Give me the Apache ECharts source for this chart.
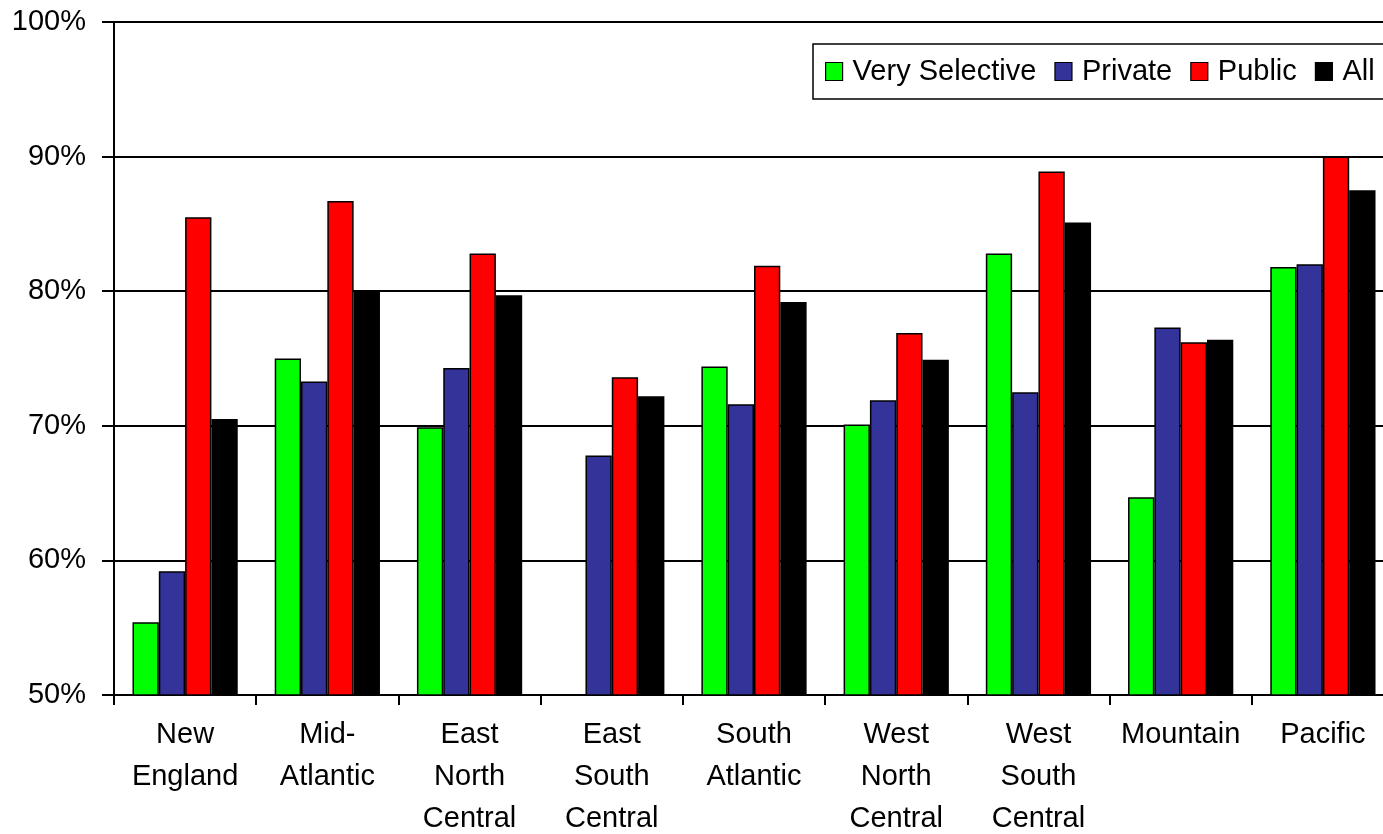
<!DOCTYPE html>
<html>
<head>
<meta charset="utf-8">
<title>Regional rates</title>
<script src="https://cdn.jsdelivr.net/npm/echarts@6/dist/echarts.min.js"></script>
<style>
  html, body { margin: 0; padding: 0; background: #fff; }
  #chart { width: 1383px; height: 834px; }
</style>
</head>
<body>
<div id="chart"></div>
<script>
// Census regions along the x axis
const regions = [
  'New\nEngland', 'Mid-\nAtlantic', 'East\nNorth\nCentral', 'East\nSouth\nCentral',
  'South\nAtlantic', 'West\nNorth\nCentral', 'West\nSouth\nCentral', 'Mountain', 'Pacific'
];

// Percentages per institution group (null = no value for that region)
const verySelective = [55.4, 75.0, 69.9, null, 74.4, 70.1, 82.8, 64.7, 81.8];
const privateInst   = [59.2, 73.3, 74.3, 67.8, 71.6, 71.9, 72.5, 77.3, 82.0];
const publicInst    = [85.5, 86.7, 82.8, 73.6, 81.9, 76.9, 88.9, 76.2, 90.0];
const allInst       = [70.5, 80.0, 79.7, 72.2, 79.2, 74.9, 85.1, 76.4, 87.5];

// Value axis range and step
const yMin = 50, yMax = 100, yStep = 10;

const seriesDefs = [
  { name: 'Very Selective', data: verySelective, color: '#00ff00' },
  { name: 'Private',        data: privateInst,   color: '#333399' },
  { name: 'Public',         data: publicInst,    color: '#ff0000' },
  { name: 'All',            data: allInst,       color: '#000000' }
];

const font = "'Liberation Sans', Arial, sans-serif";
const chart = echarts.init(document.getElementById('chart'), null, { renderer: 'canvas' });

chart.setOption({
  animation: false,
  backgroundColor: '#ffffff',
  grid: {
    left: 114, top: 22, width: 1280, height: 673,
    containLabel: false,
    outerBoundsMode: 'none'
  },
  legend: {
    left: 813, top: 44,
    width: 640,
    orient: 'horizontal',
    backgroundColor: '#ffffff',
    borderColor: '#000000',
    borderWidth: 1.5,
    padding: [13, 14, 13, 12],
    itemGap: 18,
    itemWidth: 17,
    itemHeight: 18,
    icon: 'rect',
    itemStyle: { borderColor: '#000000', borderWidth: 1.2 },
    textStyle: { fontFamily: font, fontSize: 29, color: '#000000', padding: [0, 0, 0, 5] },
    data: seriesDefs.map(s => s.name)
  },
  xAxis: {
    type: 'category',
    data: regions,
    axisLine: { lineStyle: { color: '#000000', width: 2 } },
    axisTick: { show: true, length: 10, lineStyle: { color: '#000000', width: 2 } },
    axisLabel: {
      interval: 0,
      margin: 19,
      fontFamily: font,
      fontSize: 29,
      lineHeight: 42,
      color: '#000000'
    },
    splitLine: { show: false }
  },
  yAxis: {
    type: 'value',
    min: yMin, max: yMax, interval: yStep,
    axisLine: { show: true, lineStyle: { color: '#000000', width: 2 } },
    axisTick: { show: true, length: 12, lineStyle: { color: '#000000', width: 2 } },
    axisLabel: {
      formatter: '{value}%',
      margin: 28,
      fontFamily: font,
      fontSize: 29,
      color: '#000000'
    },
    splitLine: { show: true, lineStyle: { color: '#000000', width: 2 } }
  },
  series: seriesDefs.map(s => ({
    name: s.name,
    type: 'bar',
    data: s.data,
    barGap: '0%',
    barCategoryGap: '26%',
    itemStyle: { color: s.color, borderColor: '#000000', borderWidth: 1.5 }
  }))
});
</script>
</body>
</html>
